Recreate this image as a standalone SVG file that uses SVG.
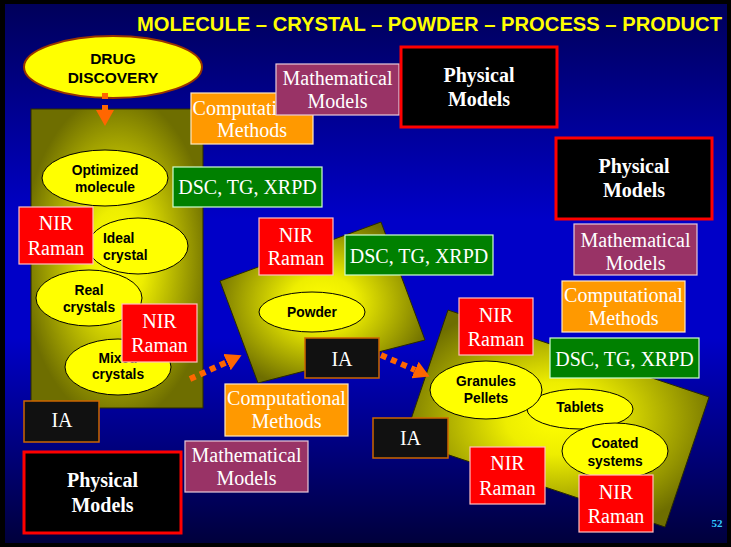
<svg xmlns="http://www.w3.org/2000/svg" width="731" height="547" viewBox="0 0 731 547">
<defs>
<linearGradient id="bg" x1="0" y1="0" x2="0" y2="1">
<stop offset="0" stop-color="#00005a"/>
<stop offset="0.4" stop-color="#0000c8"/>
<stop offset="0.62" stop-color="#0000c8"/>
<stop offset="1" stop-color="#00003c"/>
</linearGradient>
<radialGradient id="panel" cx="0.5" cy="0.5" r="0.55">
<stop offset="0" stop-color="#ffff00"/>
<stop offset="0.3" stop-color="#eeee00"/>
<stop offset="1" stop-color="#6e6e00"/>
</radialGradient>
<marker id="ah" markerUnits="userSpaceOnUse" markerWidth="16" markerHeight="18" viewBox="0 0 16 18" refX="0" refY="9" orient="auto">
<path d="M0,0 L16,9 L0,18 z" fill="#ff6600"/>
</marker>
<style>
.nir{fill:#ff0000;stroke:#ffc0c0;stroke-width:1.2}
.dsc{fill:#008000;stroke:#d0ffd0;stroke-width:1.2}
.comp{fill:#ff9900;stroke:#ffe8c0;stroke-width:1.2}
.math{fill:#993366;stroke:#e8c8d8;stroke-width:1.2}
.phys{fill:#000000;stroke:#ff0000;stroke-width:3}
.ia{fill:#111111;stroke:#cc6600;stroke-width:1.5}
.ell{fill:#ffff00;stroke:#000000;stroke-width:1}
.pan{fill:url(#panel);stroke:#2a2a00;stroke-width:1}
.t{font-family:"Liberation Serif","Times New Roman",serif;font-size:20px;fill:#ffffff;text-anchor:middle}
.tb{font-weight:bold}
.e{font-family:"Liberation Sans",Arial,sans-serif;font-weight:bold;font-size:13.8px;fill:#000000;text-anchor:middle}
.big{font-size:15.5px}
.st{text-anchor:start}
.arr{fill:none;stroke:#ff6600;stroke-width:6;stroke-dasharray:6,5;marker-end:url(#ah)}
</style>
</defs>
<rect x="0" y="0" width="731" height="547" fill="#000000"/>
<rect x="5" y="4" width="722" height="539" fill="url(#bg)"/>
<text x="137" y="31" font-family="'Liberation Sans',Arial,sans-serif" font-weight="bold" font-size="20" fill="#ffff00" textLength="585" lengthAdjust="spacingAndGlyphs">MOLECULE – CRYSTAL – POWDER – PROCESS – PRODUCT</text>

<g id="panel-molecule"><rect class="pan" x="31" y="109" width="172" height="299"/></g>
<g id="panel-powder"><polygon class="pan" points="220,281 381,222 425,340 258,383"/></g>
<g id="panel-process"><polygon class="pan" points="448,310 709,397 665,527 404,440"/></g>

<g id="drug-discovery">
<ellipse cx="113" cy="67" rx="89" ry="31" fill="#ffff00" stroke="#993300" stroke-width="2"/>
<text class="e big" x="113" y="64">DRUG</text>
<text class="e big" x="113" y="83">DISCOVERY</text>
</g>

<g id="optimized-molecule"><ellipse class="ell" cx="105" cy="178" rx="63" ry="28"/><text class="e" x="105" y="175">Optimized</text><text class="e" x="105" y="192">molecule</text></g>
<g id="ideal-crystal"><ellipse class="ell" cx="138" cy="246" rx="50" ry="28"/><text class="e st" x="103" y="243">Ideal</text><text class="e st" x="103" y="260">crystal</text></g>
<g id="real-crystals"><ellipse class="ell" cx="89" cy="298" rx="53" ry="28"/><text class="e" x="89" y="295">Real</text><text class="e" x="89" y="312">crystals</text></g>
<g id="mixed-crystals"><ellipse class="ell" cx="118" cy="367" rx="53" ry="28"/><text class="e" x="118" y="363">Mixed</text><text class="e" x="118" y="379">crystals</text></g>

<g id="nir-1"><rect class="nir" x="19" y="207" width="74" height="57"/><text class="t" x="56" y="230">NIR</text><text class="t" x="56" y="255">Raman</text></g>
<g id="nir-2"><rect class="nir" x="122" y="304" width="75" height="58"/><text class="t" x="159.5" y="328">NIR</text><text class="t" x="159.5" y="352">Raman</text></g>
<g id="ia-1"><rect class="ia" x="24" y="401" width="75" height="41"/><text class="t" x="62" y="427">IA</text></g>

<g id="comp-1"><rect class="comp" x="191" y="93" width="122" height="51"/><text class="t" x="252" y="115">Computational</text><text class="t" x="252" y="137">Methods</text></g>
<g id="math-1"><rect class="math" x="276" y="64" width="123" height="51"/><text class="t" x="337.5" y="85">Mathematical</text><text class="t" x="337.5" y="108">Models</text></g>
<g id="phys-1"><rect class="phys" x="401" y="47" width="156" height="80"/><text class="t tb" x="479" y="82">Physical</text><text class="t tb" x="479" y="106">Models</text></g>
<g id="dsc-1"><rect class="dsc" x="173" y="167" width="149" height="40"/><text class="t" x="247.5" y="194">DSC, TG, XRPD</text></g>

<g id="powder"><ellipse class="ell" cx="312" cy="312" rx="53" ry="20"/><text class="e" x="312" y="317">Powder</text></g>
<g id="nir-3"><rect class="nir" x="259" y="218" width="74" height="57"/><text class="t" x="296" y="242">NIR</text><text class="t" x="296" y="265">Raman</text></g>
<g id="dsc-2"><rect class="dsc" x="345" y="235" width="148" height="40"/><text class="t" x="419" y="263">DSC, TG, XRPD</text></g>
<g id="ia-2"><rect class="ia" x="305" y="338" width="74" height="40"/><text class="t" x="342" y="366">IA</text></g>
<g id="comp-2"><rect class="comp" x="225" y="384" width="123" height="52"/><text class="t" x="286.5" y="405">Computational</text><text class="t" x="286.5" y="428">Methods</text></g>
<g id="math-2"><rect class="math" x="185" y="441" width="123" height="51"/><text class="t" x="246.5" y="462">Mathematical</text><text class="t" x="246.5" y="485">Models</text></g>
<g id="phys-2"><rect class="phys" x="24" y="452" width="157" height="81"/><text class="t tb" x="102.5" y="487">Physical</text><text class="t tb" x="102.5" y="512">Models</text></g>

<g id="phys-3"><rect class="phys" x="556" y="138" width="156" height="81"/><text class="t tb" x="634" y="173">Physical</text><text class="t tb" x="634" y="197">Models</text></g>
<g id="math-3"><rect class="math" x="574" y="224" width="123" height="51"/><text class="t" x="635.5" y="247">Mathematical</text><text class="t" x="635.5" y="270">Models</text></g>
<g id="comp-3"><rect class="comp" x="562" y="281" width="123" height="51"/><text class="t" x="623.5" y="302">Computational</text><text class="t" x="623.5" y="325">Methods</text></g>
<g id="dsc-3"><rect class="dsc" x="550" y="338" width="149" height="40"/><text class="t" x="624.5" y="366">DSC, TG, XRPD</text></g>

<g id="tablets"><ellipse class="ell" cx="580" cy="409" rx="53" ry="20"/><text class="e" x="580" y="412">Tablets</text></g>
<g id="granules-pellets"><ellipse class="ell" cx="486" cy="390" rx="56" ry="29"/><text class="e" x="486" y="386">Granules</text><text class="e" x="486" y="403">Pellets</text></g>
<g id="coated-systems"><ellipse class="ell" cx="615" cy="451" rx="53" ry="28"/><text class="e" x="615" y="448">Coated</text><text class="e" x="615" y="466">systems</text></g>
<g id="nir-4"><rect class="nir" x="459" y="298" width="74" height="57"/><text class="t" x="496" y="322">NIR</text><text class="t" x="496" y="346">Raman</text></g>
<g id="ia-3"><rect class="ia" x="373" y="418" width="75" height="40"/><text class="t" x="410.5" y="445">IA</text></g>
<g id="nir-5"><rect class="nir" x="470" y="447" width="75" height="57"/><text class="t" x="507.5" y="470">NIR</text><text class="t" x="507.5" y="495">Raman</text></g>
<g id="nir-6"><rect class="nir" x="579" y="475" width="74" height="57"/><text class="t" x="616" y="499">NIR</text><text class="t" x="616" y="523">Raman</text></g>

<g id="connectors">
<path class="arr" d="M105,93 L105,110" style="stroke-dasharray:6,6"/>
<path class="arr" d="M190,379 L227,362"/>
<path class="arr" d="M381,355 L415,370"/>
</g>

<text x="717" y="527" font-family="'Liberation Serif','Times New Roman',serif" font-weight="bold" font-size="11" fill="#33ccff" text-anchor="middle">52</text>
</svg>
